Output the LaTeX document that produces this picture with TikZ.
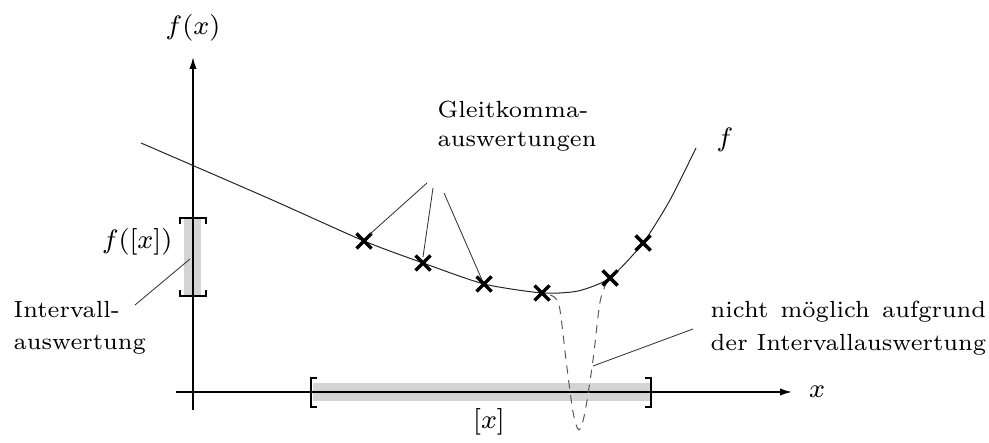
\documentclass[tikz,border=0pt]{standalone}
\usetikzlibrary{arrows.meta,calc}
\newlength\nmwidth
\begin{document}
\begin{tikzpicture}[x=0.3pt,y=-0.3pt,
  axis/.style={line width=0.5pt,-{Latex[length=3.6pt,width=2.2pt]}},
  thin/.style={line width=0.3pt,black!85},
  leader/.style={line width=0.25pt,black!80},
  brk/.style={line width=0.8pt},
  shade/.style={fill=black!17},
  xmark/.style={line width=1.05pt},
  lbl/.style={inner sep=0pt,font=\fontsize{7}{9.6}\selectfont},
  mlbl/.style={inner sep=0pt,font=\fontsize{8.5}{10}\selectfont}]
\useasboundingbox (0,0) rectangle (989,443);
% shaded intervals
\fill[shade] (184,218) rectangle (201,296);
\fill[shade] (313,383) rectangle (650,401);
% axes
\coordinate (ybot) at (193,410);
\coordinate (ytop) at (193,57);
\coordinate (xleft) at (176,392);
\coordinate (xright) at (792,392);
\draw[axis] (ybot) -- (ytop);
\draw[axis] (xleft) -- (xright);
% brackets
\draw[brk] (180,224) -- (180,218) -- (206,218) -- (206,224);
\draw[brk] (180,290) -- (180,296) -- (206,296) -- (206,290);
\draw[brk] (317,378) -- (311,378) -- (311,407) -- (317,407);
\draw[brk] (645,378) -- (651,378) -- (651,407) -- (645,407);
% cross positions
\coordinate (c1) at (364,241);
\coordinate (c2) at (423,263);
\coordinate (c3) at (484,284);
\coordinate (c4) at (542,293);
\coordinate (c5) at (610,278);
\coordinate (c6) at (643,243);
% function curve
\draw[thin] plot[smooth,tension=0.4] coordinates {(141,143) (270,199) (364,241) (423,263) (484,284) (542,293) (578,291) (610,278) (643,243) (670,200) (696,148)};
% dashed dip
\draw[thin,dash pattern=on 2.5pt off 2pt,black!65] plot[smooth,tension=0.5] coordinates {(550,295) (559,305) (566,360) (573,412) (579,430) (585,412) (593,360) (600,302) (607,282)};
\foreach \n in {c1,c2,c3,c4,c5,c6}{
  \draw[xmark] ($(\n)+(-7.5,-7.5)$) -- ($(\n)+(7.5,7.5)$) ($(\n)+(-7.5,7.5)$) -- ($(\n)+(7.5,-7.5)$);
}
% labels
\node[mlbl] (fxl) at (193,28) {$f(x)$};
\node[mlbl,anchor=east] (fXl) at (173,242) {$f([x])$};
\node[mlbl] (Xl) at (489,422) {$[x]$};
\node[mlbl] (xl) at (817,392) {$x$};
\node[mlbl] (fl) at (725,140) {$f$};
\node[lbl,anchor=north west,align=left,font=\fontsize{7}{8.7}\selectfont] (gk) at (437,100) {Gleitkomma-\\auswertungen};
\node[lbl,anchor=north west,align=left] (iv) at (13,301) {Intervall-\\auswertung};
\node[lbl,anchor=north west,align=left,font=\fontsize{7}{9.9}\selectfont] (nm) at (710,300) {\settowidth\nmwidth{der Intervallauswertung}\makebox[\nmwidth][s]{nicht möglich aufgrund}\\der Intervallauswertung};
% leaders
\draw[leader] (427,183) -- (370,234);
\draw[leader] (433,188) -- (423,257);
\draw[leader] (444,193) -- (482,280);
\draw[leader] (135,305) -- (190,259);
\draw[leader] (693,329) -- (593,366);
\end{tikzpicture}
\end{document}
